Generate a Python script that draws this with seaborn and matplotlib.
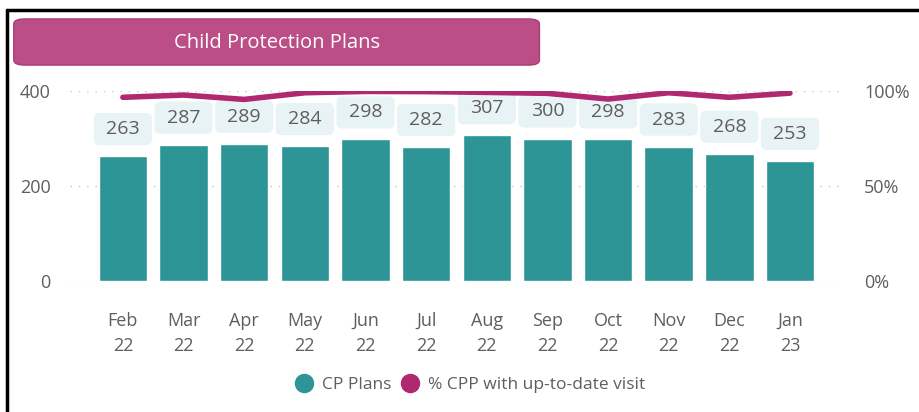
import numpy as np
import pandas as pd
import matplotlib.pyplot as plt
import seaborn as sns
from matplotlib.patches import FancyBboxPatch
from matplotlib.lines import Line2D

months = ["Feb\n22", "Mar\n22", "Apr\n22", "May\n22", "Jun\n22", "Jul\n22",
          "Aug\n22", "Sep\n22", "Oct\n22", "Nov\n22", "Dec\n22", "Jan\n23"]
cp_plans = [263, 287, 289, 284, 298, 282, 307, 300, 298, 283, 268, 253]
pct_visit = [96.7, 97.9, 95.6, 99.1, 99.8, 99.7, 99.3, 98.8, 95.8, 99.1, 96.7, 98.9]

teal = "#2e9596"
magenta = "#b0286f"
grey = "#605e5c"

sns.set_style("white")
plt.rcParams['font.family'] = ['Open Sans', 'DejaVu Sans']

df = pd.DataFrame({"month": months, "plans": cp_plans, "pct": pct_visit})

fig = plt.figure(figsize=(9.19, 4.12), dpi=100)
ax = fig.add_axes([0.076, 0.318, 0.843, 0.461])

sns.barplot(data=df, x="month", y="plans", color=teal, saturation=1, width=0.8, ax=ax)
ax.set_xlim(-0.875, 11.9)
ax.set_ylim(0, 400)
ax.set_yticks([0, 200, 400])
ax.set_xlabel("")
ax.set_ylabel("")
ax.tick_params(axis="both", length=0, labelsize=13, labelcolor=grey)
ax.tick_params(axis="x", pad=22)
ax.tick_params(axis="y", pad=14)
for lab in ax.get_xticklabels():
    lab.set_linespacing(1.55)
for v in [0, 200, 400]:
    ax.axhline(v, color="#c8c6c4", linestyle=(0, (1, 5)), linewidth=1, zorder=0)
for s in ax.spines.values():
    s.set_visible(False)

# value labels in light boxes (box ~1 category wide, ~33px tall, ~27px above bar top)
bw, bh = 0.96, 68
for i, v in enumerate(cp_plans):
    yc = v + 57
    box = FancyBboxPatch((i - bw / 2, yc - bh / 2), bw, bh,
                         boxstyle="round,pad=0,rounding_size=0.1", mutation_aspect=127,
                         fc="#e8f3f5", ec="none", zorder=4, clip_on=False)
    ax.add_patch(box)
    ax.text(i, yc, str(v), ha="center", va="center", fontsize=14, color=grey,
            zorder=5, clip_on=False)

ax2 = ax.twinx()
sns.lineplot(x=np.arange(len(months)), y=pct_visit, color=magenta, linewidth=4, ax=ax2)
ax2.set_ylim(0, 100)
ax2.set_yticks([0, 50, 100])
ax2.set_yticklabels(["0%", "50%", "100%"])
ax2.tick_params(axis="y", length=0, labelsize=13, labelcolor=grey, pad=14)
for s in ax2.spines.values():
    s.set_visible(False)
ax2.patch.set_visible(False)

# title box
fig.add_artist(FancyBboxPatch((0.015, 0.842), 0.572, 0.112, boxstyle="round,pad=0,rounding_size=0.012",
                              transform=fig.transFigure, fc="#bb4d87", ec="#a83d77", lw=1))
fig.text(0.302, 0.895, "Child Protection Plans", ha="center", va="center", color="white", fontsize=14.5)

# legend
handles = [Line2D([], [], marker="o", linestyle="", color=teal, markersize=13),
           Line2D([], [], marker="o", linestyle="", color=magenta, markersize=13)]
fig.legend(handles, ["CP Plans", "% CPP with up-to-date visit"], loc="center",
           bbox_to_anchor=(0.507, 0.065), ncol=2, frameon=False, fontsize=12.5,
           handletextpad=0.0, columnspacing=0.1, labelcolor=grey)

# frame lines (top and left)
fig.add_artist(Line2D([0.0076, 1.0], [0.976, 0.976], transform=fig.transFigure, color="black", lw=2.5))
fig.add_artist(Line2D([0.0076, 0.0076], [0.0, 0.976], transform=fig.transFigure, color="black", lw=2.5))

fig.savefig("out.png", dpi=100)
